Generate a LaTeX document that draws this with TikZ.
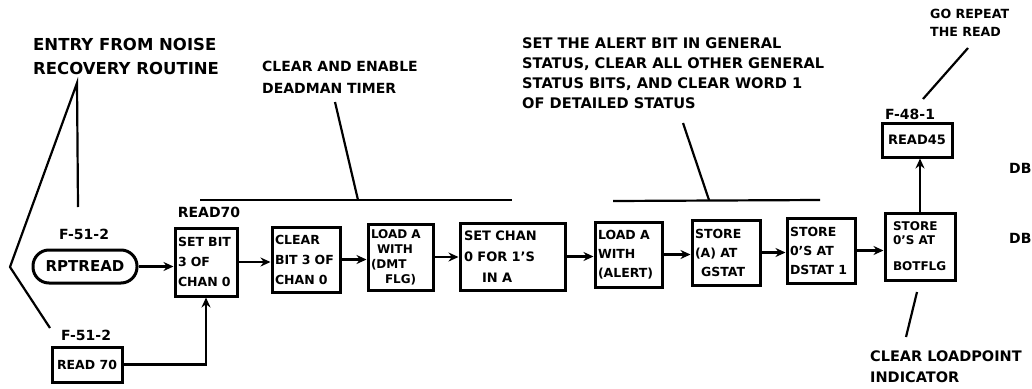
\documentclass[tikz,border=0pt]{standalone}
\usepackage{fontspec}
\setmainfont{DejaVu Sans}
\usetikzlibrary{arrows.meta}
\begin{document}
\begin{tikzpicture}[x=1pt,y=-1pt,
  box/.style={draw, line width=3pt, inner xsep=3pt, inner ysep=2pt, align=left,
              font=\bfseries\fontsize{12.5}{20}\selectfont},
  arr/.style={line width=2.4pt, -{Stealth[length=10pt,width=9pt]}},
  lead/.style={line width=2.2pt},
  note/.style={font=\bfseries\fontsize{14.6}{20}\selectfont, align=left, inner sep=0pt},
  lbl/.style={font=\bfseries\fontsize{14}{16}\selectfont, inner sep=0pt}]
\useasboundingbox (0,0) rectangle (1032,388);

% notes
\node[note, anchor=west, font=\bfseries\fontsize{16.5}{24}\selectfont] (entry) at (33,56) {ENTRY FROM NOISE\\RECOVERY ROUTINE};
\node[note, anchor=west, font=\bfseries\fontsize{14}{22}\selectfont] (clr) at (262,77) {CLEAR AND ENABLE\\DEADMAN TIMER};
\node[note, anchor=west] (alert) at (522,73) {SET THE ALERT BIT IN GENERAL\\STATUS, CLEAR ALL OTHER GENERAL\\STATUS BITS, AND CLEAR WORD 1\\OF DETAILED STATUS};
\node[note, anchor=west, font=\bfseries\fontsize{12.6}{18}\selectfont] (go) at (930,23) {GO REPEAT\\THE READ};
\node[note, anchor=west, font=\bfseries\fontsize{14.5}{21}\selectfont] (ldp) at (870,367) {CLEAR LOADPOINT\\INDICATOR};
\node[note, anchor=west, font=\bfseries\fontsize{14}{16}\selectfont] (db1) at (1009,168) {DB};
\node[note, anchor=west, font=\bfseries\fontsize{14}{16}\selectfont] (db2) at (1009,238) {DB};

% boxes
\node[box, rounded corners=16pt, minimum width=104pt, minimum height=33pt, align=center,
      font=\bfseries\fontsize{15}{17}\selectfont] (rpt) at (85,266.5) {RPTREAD};
\node[box, minimum width=70pt, minimum height=35pt, align=center, font=\bfseries\fontsize{12.5}{15}\selectfont] (r70) at (87,364.5) {READ 70};
\node[box, minimum width=60pt, minimum height=68pt, text width=56pt] (b1) at (206,262) {SET BIT\\3 OF\\CHAN 0};
\node[box, minimum width=68pt, minimum height=65pt, text width=62pt] (b2) at (306,259.5) {CLEAR\\BIT 3 OF\\CHAN 0};
\node[box, minimum width=65pt, minimum height=66pt, text width=59pt, font=\bfseries\fontsize{12}{15}\selectfont] (b3) at (400.5,257) {LOAD A\\\hspace*{6pt}WITH\\(DMT\\\hspace*{14pt}FLG)};
\node[box, minimum width=105pt, minimum height=67pt, text width=97pt, font=\bfseries\fontsize{13}{21}\selectfont] (b4) at (512.5,256.5) {SET CHAN\\0 FOR 1'S\\\hspace*{18pt}IN A};
\node[box, minimum width=67pt, minimum height=65pt, text width=61pt, font=\bfseries\fontsize{12.5}{19}\selectfont] (b5) at (628.5,254.5) {LOAD A\\WITH\\(ALERT)};
\node[box, minimum width=68pt, minimum height=65pt, text width=62pt, font=\bfseries\fontsize{12.5}{19}\selectfont] (b6) at (726,252.5) {STORE\\(A) AT\\\hspace*{6pt}GSTAT};
\node[box, minimum width=68pt, minimum height=65pt, text width=62pt, font=\bfseries\fontsize{12.5}{19}\selectfont] (b7) at (821,250.5) {STORE\\0'S AT\\DSTAT 1};
\node[box, minimum width=70pt, minimum height=67pt, text width=64pt, font=\bfseries\fontsize{12}{14}\selectfont] (b8) at (920,246.5) {\hspace*{5pt}STORE\\\hspace*{5pt}0'S AT\\[12pt]\hspace*{5pt}BOTFLG};
\node[box, minimum width=70pt, minimum height=34pt, align=center, font=\bfseries\fontsize{13}{15}\selectfont] (r45) at (917,140) {READ45};

% labels
\node[lbl] (l1) at (84,234) {F-51-2};
\node[lbl] (l2) at (86,335) {F-51-2};
\node[lbl] (l3) at (209,212) {READ70};
\node[lbl] (l4) at (910,114) {F-48-1};

% flow connectors
\draw[arr] (rpt.east) -- (rpt.east -| b1.west);
\draw[arr] (r70.east) -| (b1.south);
\draw[arr] (b1.east) -- (b1.east -| b2.west);
\draw[arr] (b2.east) -- (b2.east -| b3.west);
\draw[arr] (b3.east) -- (b3.east -| b4.west);
\draw[arr] (b4.east) -- (b4.east -| b5.west);
\draw[arr] (b5.east) -- (b5.east -| b6.west);
\draw[arr] (b6.east) -- (b6.east -| b7.west);
\draw[arr] (b7.east) -- (b7.east -| b8.west);
\draw[arr] (b8.north) -- (b8.north |- r45.south);

% leader lines and brackets
\coordinate (ev) at (77,83);
\coordinate (eb) at (78,207);
\coordinate (el) at (10,267);
\coordinate (ee) at (50,328);
\draw[lead] (eb) -- (ev) -- (el) -- (ee);

\coordinate (c1) at (200,200);
\coordinate (c2) at (512,200);
\coordinate (cm) at (358,200);
\coordinate (ct) at (335,102);
\draw[lead] (c1) -- (c2);
\draw[lead] (ct) -- (cm);

\coordinate (a1) at (613,201);
\coordinate (a2) at (820,200);
\coordinate (am) at (709,200);
\coordinate (at) at (683,123);
\draw[lead] (a1) -- (a2);
\draw[lead] (at) -- (am);

\coordinate (g1) at (968,48);
\coordinate (g2) at (923,99);
\draw[lead] (g1) -- (g2);

\coordinate (d1) at (917,292);
\coordinate (d2) at (906,337);
\draw[lead] (d1) -- (d2);
\end{tikzpicture}
\end{document}
